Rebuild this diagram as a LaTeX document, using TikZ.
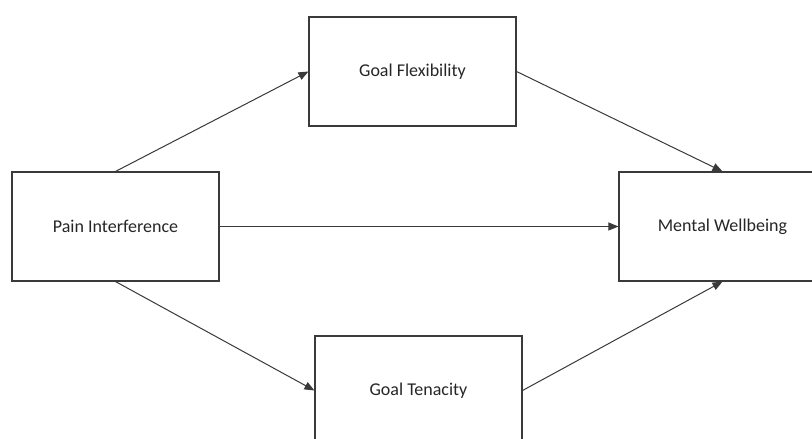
\documentclass[tikz,border=0pt]{standalone}
\usepackage{fontspec}
\setmainfont{Carlito}
\usetikzlibrary{arrows.meta}
\definecolor{linegray}{HTML}{3A3A3A}
\definecolor{textgray}{HTML}{262626}
\begin{document}
\begin{tikzpicture}[x=1pt,y=-1pt,
  box/.style={draw=linegray, line width=1.1pt, fill=white, minimum width=207pt, minimum height=109pt, inner sep=0pt, text=textgray, font=\fontsize{18pt}{21pt}\selectfont},
  conn/.style={draw=linegray, line width=1pt, -{Triangle[length=10pt,width=8pt]}}]
\clip (0,0) rectangle (812,439);
\fill[white] (0,0) rectangle (812,439);
\node[box] (pi) at (115.5,226.5) {Pain Interference};
\node[box] (gf) at (412.5,71.5) {Goal Flexibility};
\node[box] (mw) at (722.5,226.5) {Mental Wellbeing};
\node[box] (gt) at (418.5,390.5) {Goal Tenacity};
\draw[conn] (pi.north) -- (gf.west);
\draw[conn] (gf.east) -- (mw.north);
\draw[conn] (pi.east) -- (mw.west);
\draw[conn] (pi.south) -- (gt.west);
\draw[conn] (gt.east) -- (mw.south);
\end{tikzpicture}
\end{document}
